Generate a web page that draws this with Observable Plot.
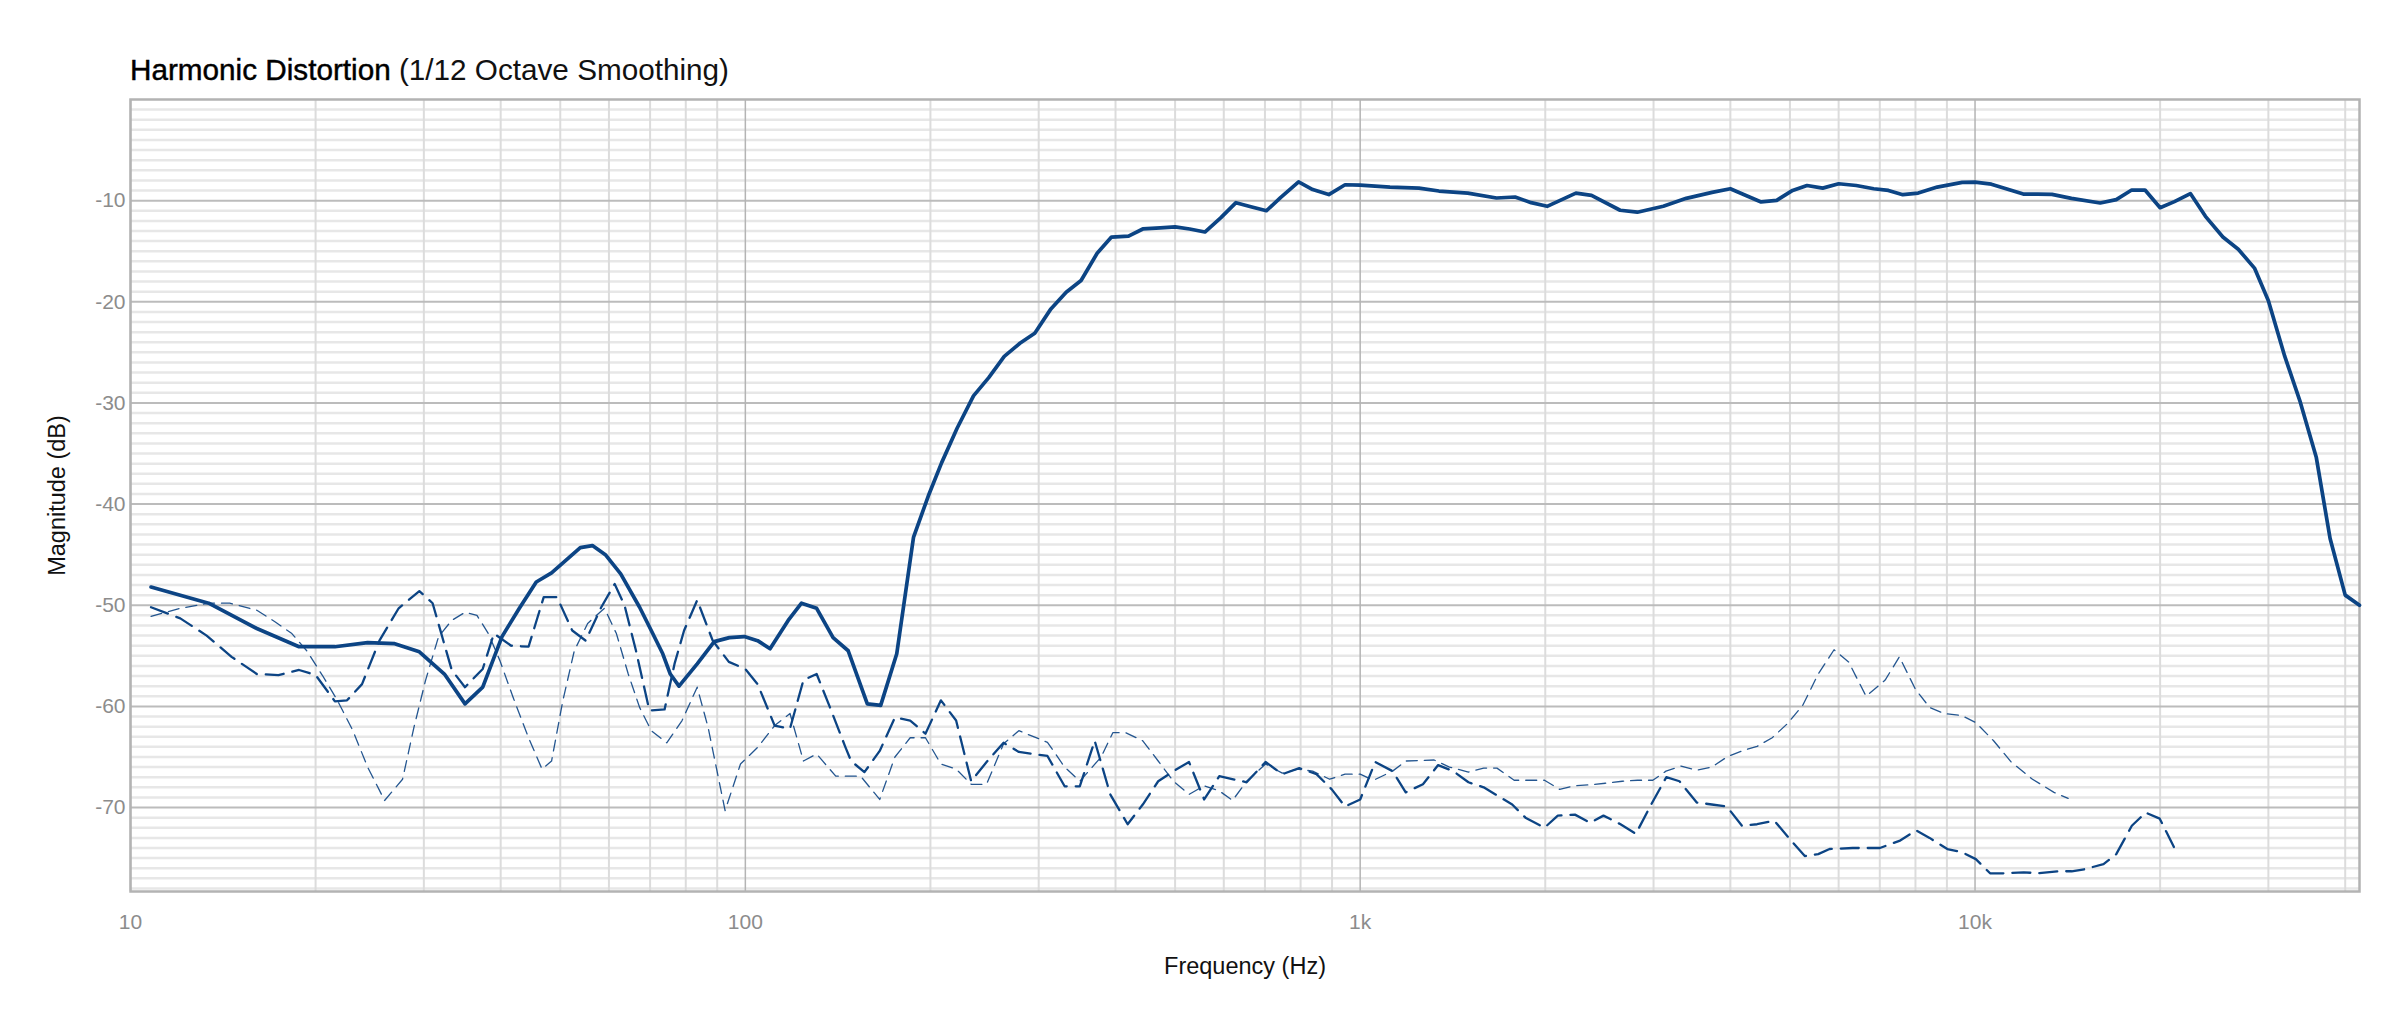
<!DOCTYPE html>
<html>
<head>
<meta charset="utf-8">
<script src="https://cdn.jsdelivr.net/npm/d3@7"></script>
<script src="https://cdn.jsdelivr.net/npm/@observablehq/plot@0.6"></script>
<style>
  html, body { margin: 0; padding: 0; background: #fff; }
  #wrap { position: relative; width: 2400px; height: 1033px; }
  #title { position: absolute; left: 130px; top: 55px; font-family: "Liberation Sans", Arial, sans-serif; font-size: 29.7px; line-height: 29px; color: #111; white-space: nowrap; }
  #title .main { color: #000; -webkit-text-stroke: 0.45px #000; }
</style>
</head>
<body>
<div id="wrap">
  <div id="title"><span class="main">Harmonic Distortion</span> (1/12 Octave Smoothing)</div>
  <div id="chart"></div>
</div>
<script>
// Solid series
const freqA = [10.8,13.4,16.05,18.8,21.5,24.3,26.9,29.5,32.4,35.0,37.4,40.2,42.9,45.7,48.4,53.9,56.4,59.2,62.7,67.3,70.3,73.4,75.5,78,83.5,89,94.2,99.6,104.7,109.7,117.4,123.4,130.6,138.9,147,157.9,166,176.3,187.7,198.4,208.6,221,235,248.8,263.7,279.6,295.6,314,332.5,351.6,373.4,394,420,443,473,500,528,559,593,628,664,704,742,794,837,889,945,1000,1118,1246,1343,1496,1666,1786,1897,2014,2243,2378,2647,2823,3112,3391,3735,3999,4488,4758,5050,5330,5653,6001,6410,6843,7230,7630,8083,8680,9530,10000,10630,11980,12640,13340,14350,15980,16970,17980,18900,20000,21100,22400,23700,25300,26800,28500,30000,31900,33800,35900,37800,40000,42200];
const dbA = [-48.2,-49.8,-52.3,-54.1,-54.1,-53.7,-53.8,-54.6,-56.8,-59.75,-58.1,-53.1,-50.3,-47.7,-46.8,-44.3,-44.1,-45.0,-46.9,-50.2,-52.5,-54.8,-56.8,-58.0,-55.8,-53.6,-53.2,-53.1,-53.5,-54.3,-51.5,-49.8,-50.3,-53.2,-54.5,-59.75,-59.9,-54.8,-43.3,-39.2,-35.9,-32.5,-29.3,-27.5,-25.4,-24.1,-23.1,-20.7,-19.05,-17.9,-15.2,-13.6,-13.5,-12.8,-12.7,-12.6,-12.8,-13.1,-11.7,-10.2,-10.6,-11.0,-9.7,-8.15,-8.9,-9.4,-8.43,-8.46,-8.66,-8.76,-9.05,-9.25,-9.74,-9.64,-10.2,-10.56,-9.25,-9.48,-10.95,-11.14,-10.56,-9.77,-9.18,-8.82,-10.13,-9.97,-8.99,-8.5,-8.76,-8.33,-8.5,-8.82,-8.99,-9.41,-9.25,-8.66,-8.2,-8.17,-8.37,-9.35,-9.35,-9.38,-9.77,-10.23,-9.9,-8.95,-8.95,-10.7,-10.1,-9.3,-11.55,-13.6,-14.8,-16.7,-19.9,-25.4,-29.9,-35.4,-43.4,-49.0,-50.0];

// Medium dashed series
const freqB = [10.8,12.05,13.3,14.6,16.05,17.4,18.8,20.0,21.5,22.5,23.8,25.4,27.3,29.5,31.0,33.3,35.0,37.4,39.0,41.6,44.4,47.0,49.4,52.3,55.0,58.3,61.3,63.6,66.4,69.8,73.9,76.7,79.5,83.5,88.5,94.0,100,104.7,111.6,118.2,124.3,130.6,137.3,145.4,148.6,156.2,165.4,175.1,185.4,196.3,208,220.2,233,246.8,263,278.5,310,330.6,349.9,370,392.2,418.6,443,469.3,497,526.7,557.5,590,653.6,701.6,747,796,849,899,945,1000,1058,1129,1186,1265,1339,1417,1500,1588,1767,1857,1994,2096,2235,2365,2487,2651,2808,2973,3147,3306,3527,3732,3948,4177,4421,4716,5028,5286,5558,5800,6322,7002,7533,8020,8435,9015,9507,10030,10580,11150,12000,12650,13620,14360,15050,16180,16970,17990,18940,19970,21060];
const dbB = [-50.2,-51.3,-53.0,-55.1,-56.8,-56.9,-56.4,-56.9,-59.5,-59.4,-57.8,-53.5,-50.3,-48.6,-49.8,-56.4,-58.1,-56.3,-52.8,-54.0,-54.1,-49.2,-49.2,-52.5,-53.5,-50.2,-47.9,-50.0,-54.5,-60.4,-60.3,-55.8,-52.5,-49.5,-53.5,-55.6,-56.3,-57.8,-61.9,-62.2,-57.4,-56.8,-60.1,-64.0,-65.4,-66.5,-64.4,-61.1,-61.4,-62.7,-59.4,-61.4,-67.4,-65.5,-63.6,-64.5,-64.9,-67.9,-67.9,-63.4,-68.7,-71.65,-69.7,-67.4,-66.4,-65.5,-69.2,-66.9,-67.5,-65.5,-66.7,-66.1,-66.7,-68.2,-69.9,-69.2,-65.5,-66.4,-68.5,-67.7,-65.8,-66.4,-67.5,-68.0,-69.7,-71.0,-72.0,-70.8,-70.7,-71.5,-70.8,-71.65,-72.6,-69.7,-67.0,-67.4,-69.5,-69.7,-69.9,-71.8,-71.65,-71.3,-73.3,-74.8,-74.6,-74.1,-74.0,-74.0,-73.3,-72.25,-73.0,-74.1,-74.4,-75.1,-76.5,-76.5,-76.4,-76.5,-76.3,-76.3,-76.1,-75.6,-74.6,-71.8,-70.5,-71.1,-73.9];

// Thin dashed series
const freqC = [10.8,12.05,13.4,14.5,16.05,17.2,18.3,19.35,20.5,21.7,23.0,24.3,25.9,27.7,28.9,30.2,31.7,33.3,35.0,36.6,38.2,39.9,41.9,44.4,46.7,48.4,50.5,52.7,55.4,59.0,61.7,64.5,67.3,70.3,74.5,78.9,83.5,87.0,92.7,98.2,104.7,111.6,118.2,124.3,130.6,140.3,154,165.4,175.1,185.4,196.3,208,220.2,233,246.8,263,278.5,310,330.6,349.9,379,396,415.5,443,469.3,497,526.7,557.5,590,620,653.6,701.6,747,791,837,892,945,1000,1051,1129,1186,1319,1397,1500,1588,1669,1780,1994,2111,2235,2366,2504,2669,2826,2992,3143,3326,3527,3732,3948,4177,4421,4679,4954,5245,5558,5898,6228,6650,7142,7533,7999,8435,8894,9507,10030,10720,11450,12400,13440,14170];
const dbC = [-51.1,-50.3,-49.8,-49.8,-50.5,-51.65,-52.8,-54.5,-56.9,-59.4,-62.4,-66.0,-69.3,-67.2,-62.1,-57.4,-53.1,-51.5,-50.7,-51.0,-52.8,-55.5,-59.1,-63.1,-66.2,-65.4,-59.4,-54.5,-51.8,-50.3,-52.8,-56.8,-60.1,-62.4,-63.6,-61.4,-58.1,-62.1,-70.3,-65.7,-64.05,-61.9,-60.7,-65.4,-64.7,-66.9,-66.9,-69.2,-65.0,-63.1,-63.1,-65.7,-66.2,-67.7,-67.7,-63.7,-62.4,-63.55,-66.0,-67.4,-65.0,-62.6,-62.6,-63.4,-65.4,-67.4,-68.7,-67.85,-68.35,-69.3,-67.4,-65.7,-66.6,-66.2,-66.4,-67.2,-66.7,-66.7,-67.3,-66.4,-65.4,-65.3,-66.0,-66.5,-66.1,-66.1,-67.3,-67.3,-68.2,-67.85,-67.75,-67.6,-67.4,-67.3,-67.3,-66.4,-65.9,-66.3,-66.0,-65.0,-64.4,-63.95,-63.1,-61.7,-59.9,-56.8,-54.4,-55.6,-59.0,-57.4,-55.1,-58.3,-60.1,-60.7,-60.9,-61.6,-63.4,-65.5,-67.2,-68.5,-69.1];

// Axis ticks and grid values
const xTicks = [10, 100, 1000, 10000];
const xTickLabels = ["10", "100", "1k", "10k"];
const yTicks = [-10, -20, -30, -40, -50, -60, -70];
const minorHz = [20,30,40,50,60,70,80,90,200,300,400,500,600,700,800,900,2000,3000,4000,5000,6000,7000,8000,9000,20000,30000,40000];
const minorDb = d3.range(-78, 0).filter(d => d % 10 !== 0);

const rows = (f, d) => f.map((x, i) => ({f: x, db: d[i]}));
const A = rows(freqA, dbA), B = rows(freqB, dbB), C = rows(freqC, dbC);
const col = "#0c4484";

const chart = Plot.plot({
  width: 2400,
  height: 1033,
  marginLeft: 130,
  marginRight: 41,
  marginTop: 99,
  marginBottom: 142,
  style: {fontFamily: "'Liberation Sans', Arial, sans-serif", color: "#8c8c8c", background: "#fff"},
  x: {type: "log", domain: [10, 42200]},
  y: {domain: [-78.3, 0]},
  marks: [
    Plot.ruleY(minorDb, {stroke: "#e7e7e7", strokeWidth: 2.5}),
    Plot.ruleX(minorHz, {stroke: "#dcdcdc", strokeWidth: 2}),
    Plot.ruleY(yTicks, {stroke: "#bcbcbc", strokeWidth: 2}),
    Plot.ruleX(xTicks, {stroke: "#b4b4b4", strokeWidth: 1.5}),
    Plot.frame({stroke: "#b3b3b3", strokeWidth: 2.5}),
    Plot.line(C, {x: "f", y: "db", stroke: col, strokeWidth: 1.3, strokeDasharray: "11,7", strokeOpacity: 0.9}),
    Plot.line(B, {x: "f", y: "db", stroke: col, strokeWidth: 2.3, strokeDasharray: "18,9"}),
    Plot.line(A, {x: "f", y: "db", stroke: col, strokeWidth: 3.7}),
    Plot.axisX({ticks: xTicks, tickFormat: d => xTickLabels[xTicks.indexOf(d)], tickSize: 0, tickPadding: 23, fontSize: 21, label: null}),
    Plot.axisY({ticks: yTicks, tickFormat: d => String(d), tickSize: 0, tickPadding: 5, fontSize: 21, label: null}),
    Plot.text(["Frequency (Hz)"], {text: d => d, frameAnchor: "bottom", dy: 82, fontSize: 23.5, fill: "#111"}),
    Plot.text(["Magnitude (dB)"], {text: d => d, frameAnchor: "left", textAnchor: "middle", dx: -73, rotate: -90, fontSize: 23.5, fill: "#111"})
  ]
});
document.getElementById("chart").appendChild(chart);
</script>
</body>
</html>
